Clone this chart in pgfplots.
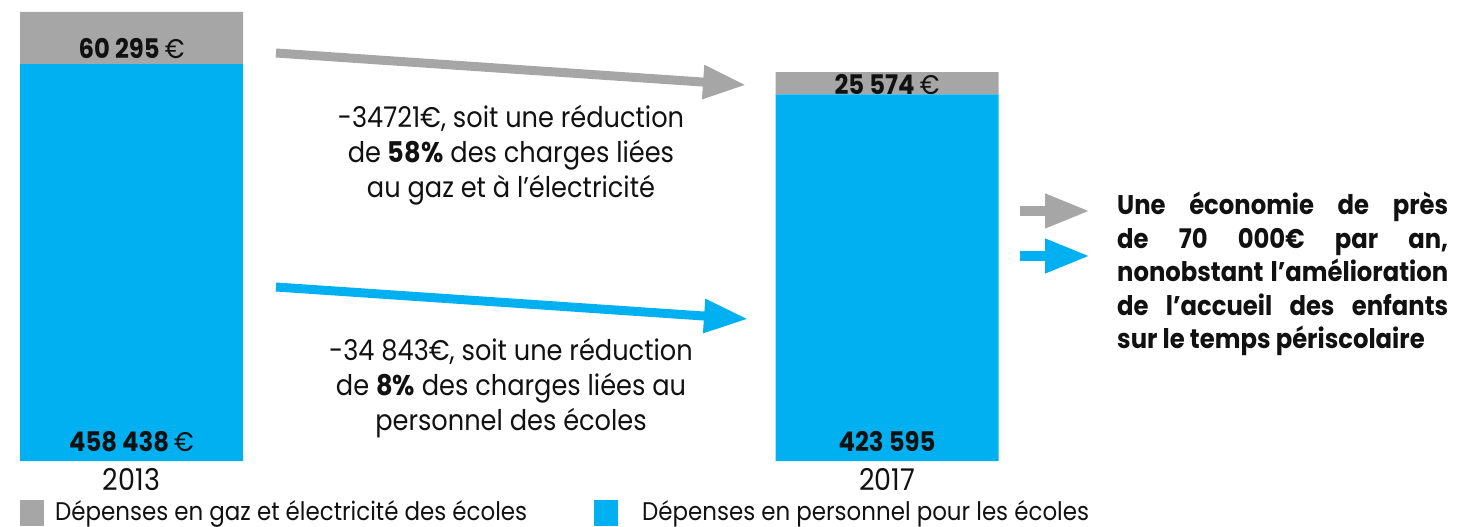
\documentclass[border=0pt]{standalone}
\usepackage{fontspec}
\setmainfont{Poppins}[FakeStretch=0.9]
\usepackage{pgfplots}
\pgfplotsset{compat=1.18}
\usetikzlibrary{arrows.meta}
\definecolor{gaz}{HTML}{A6A6A6}
\definecolor{pers}{HTML}{00B0F0}
\definecolor{txt}{HTML}{111111}
\newcommand\R[2]{(rel axis cs:#1/1458,1-#2/526)}
\newcommand\PX[2]{({#1pt},{526pt-#2pt})}
\begin{document}
\begin{tikzpicture}
\begin{axis}[
 at={(0,0)}, anchor=south west,
 scale only axis, width=1458pt, height=526pt,
 xmin=0, xmax=1458, ymin=-75095, ymax=532593,
 hide axis, clip=false,
 ybar stacked, bar width=223,
]
\addplot[fill=pers, draw=none] coordinates {(131.5,458438) (887,423595)};
\addplot[fill=gaz, draw=none] coordinates {(131.5,60295) (887,25574)};
\path \R{0}{0} rectangle \R{1458}{526};
\node[anchor=base, font=\fontsize{30}{30}\selectfont, text=txt] at \R{131.5}{490} {2013};
\node[anchor=base, font=\fontsize{30}{30}\selectfont, text=txt] at \R{887}{490} {2017};
% arrows
\draw[gaz, line width=9pt, -{Triangle[length=43pt, width=32pt]}] \R{276}{53} -- \R{746}{85};
\draw[pers, line width=9pt, -{Triangle[length=44pt, width=32pt]}] \R{276}{287} -- \R{748}{319};
\draw[gaz, line width=10pt, -{Triangle[length=45pt, width=32pt]}] \R{1020}{211} -- \R{1090}{211};
\draw[pers, line width=10pt, -{Triangle[length=45pt, width=32pt]}] \R{1020}{256} -- \R{1090}{256};
% middle texts (base = last line)
\node[anchor=base, align=center, font=\fontsize{28.5}{35}\selectfont, text=txt] at \R{511}{198}
 {-34721€, soit une réduction\\de \textbf{58\%} des charges liées\\au gaz et à l’électricité};
\node[anchor=base, align=center, font=\fontsize{28.5}{35}\selectfont, text=txt] at \R{511}{430}
 {-34 843€, soit une réduction\\de \textbf{8\%} des charges liées au\\personnel des écoles};
% right text
\node[anchor=base west, inner sep=0pt, font=\fontsize{27}{33.5}\selectfont\bfseries, text=txt] at \R{1117}{215}
 {\parbox[t]{331pt}{\hyphenpenalty=10000\parfillskip=0pt plus 1fil\noindent
 Une économie de près\linebreak de 70 000€ par an,\linebreak nonobstant l’amélioration\linebreak de l’accueil des enfants\linebreak sur le temps périscolaire}};
% legend
\fill[gaz] \R{20}{500} rectangle \R{44}{526};
\node[anchor=base west, inner sep=0pt, font=\fontsize{25.5}{27}\selectfont, text=txt] at \R{55}{520} {Dépenses en gaz et électricité des écoles};
\fill[pers] \R{594}{500} rectangle \R{618}{526};
\node[anchor=base west, inner sep=0pt, font=\fontsize{25.5}{27}\selectfont, text=txt] at \R{642}{520} {Dépenses en personnel pour les écoles};
\end{axis}
\node[anchor=base, font=\fontsize{27}{30}\selectfont\bfseries, text=txt] at \PX{131.5}{58} {60 295 \mdseries€};
\node[anchor=base, font=\fontsize{27}{30}\selectfont\bfseries, text=txt] at \PX{131.5}{451} {458 438 \mdseries€};
\node[anchor=base, font=\fontsize{27}{30}\selectfont\bfseries, text=txt] at \PX{887}{94} {25 574 \mdseries€};
\node[anchor=base, font=\fontsize{27}{30}\selectfont\bfseries, text=txt] at \PX{887}{451} {423 595};
\end{tikzpicture}
\end{document}
